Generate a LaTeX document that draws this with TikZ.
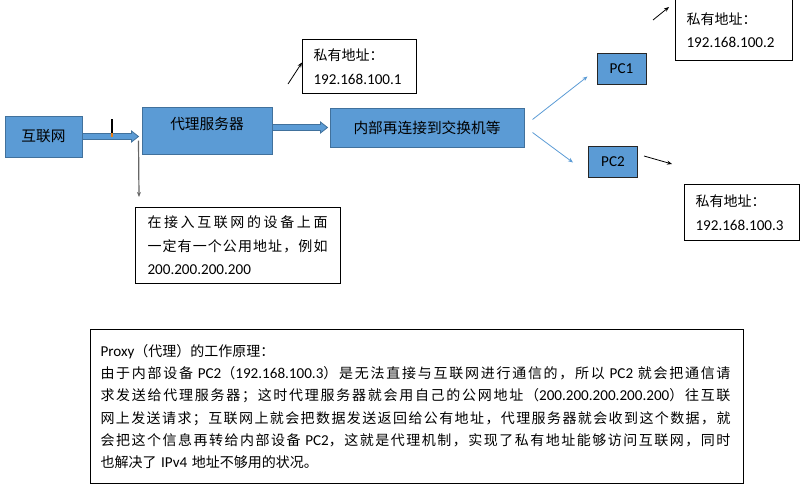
\documentclass[tikz,border=0pt]{standalone}
\usepackage{fontspec}
\setmainfont{Noto Sans CJK SC}
\newfontfamily\enfont[Scale=1.08]{Carlito}
\usetikzlibrary{calc,arrows.meta}
\makeatletter
\ifdefined\newXeTeXintercharclass \newXeTeXintercharclass\cjkcls \else \chardef\cjkcls=7 \fi
\def\setcjkrange#1#2{\@tempcnta=#1\relax
  \loop \XeTeXcharclass\@tempcnta=\cjkcls \ifnum\@tempcnta<#2\relax \advance\@tempcnta\@ne \repeat}
\setcjkrange{"3000}{"303F}
\setcjkrange{"4E00}{"9FFF}
\setcjkrange{"FF00}{"FFEF}
\makeatother
\XeTeXinterchartoks\cjkcls\cjkcls={\hskip 0pt plus 1pt\relax}
\newcommand\en[1]{{\enfont #1}}
\newcommand\jline[2]{\makebox[#1][s]{\XeTeXinterchartokenstate=1 #2}}
\newcommand\fatarr[2]{\draw[fatarrow] ($(#1)+(0,-3)$) -- ($(#2)+(-7,-3)$) -- ($(#2)+(-7,-5.5)$) -- (#2) -- ($(#2)+(-7,5.5)$) -- ($(#2)+(-7,3)$) -- ($(#1)+(0,3)$) -- cycle;}
\definecolor{boxblue}{HTML}{5B9BD5}
\definecolor{boxedge}{HTML}{41719C}
\tikzset{
  bluebox/.style={draw=boxedge, fill=boxblue, line width=1pt, inner sep=0pt, font=\fontsize{14.7}{18}\selectfont},
  pcbox/.style={bluebox, draw=black!85, minimum width=49pt, minimum height=31pt, font=\fontsize{14}{17}\selectfont},
  tagbox/.style={draw=black, line width=1pt, anchor=north west, align=left, inner ysep=0pt, font=\fontsize{14}{23.5}\selectfont},
  fatarrow/.style={draw=boxedge, fill=boxblue, line width=0.8pt},
  thinarrow/.style={-{Stealth[length=5pt,width=4pt]}, draw=boxblue, line width=0.8pt},
  pointer/.style={-{Stealth[length=5pt,width=4pt]}, line width=0.8pt},
}
\begin{document}
\begin{tikzpicture}[x=1pt, y=-1pt]
\useasboundingbox (0,0) rectangle (802,488);
\node[bluebox, minimum width=77pt, minimum height=41pt] (inet) at (43.5,136.5) {互联网};
\node[bluebox, minimum width=130pt, minimum height=47pt, text depth=15pt] (proxy) at (207,130.5) {代理服务器};
\node[bluebox, minimum width=194pt, minimum height=39pt] (lan) at (427,127.5) {内部再连接到交换机等};
\node[pcbox] (pc1) at (621.5,68.5) {\en{PC1}};
\node[pcbox] (pc2) at (613,161.5) {\en{PC2}};

\node[tagbox, text width=92pt, inner xsep=11pt, minimum height=54pt] (ip1) at (302,39) {私有地址：\\\en{192.168.100.1}};
\node[tagbox, text width=95pt, inner xsep=11pt, minimum height=61pt] (ip2) at (675,-1) {私有地址：\\\en{192.168.100.2}};
\node[tagbox, text width=93pt, inner xsep=11pt, minimum height=56pt] (ip3) at (684,184) {私有地址：\\\en{192.168.100.3}};
\node[tagbox, text width=181pt, inner xsep=12pt, minimum height=76pt] (pub) at (135,207)
  {\jline{180pt}{在接入互联网的设备上面}\\\jline{180pt}{一定有一个公用地址，例如}\\\en{200.200.200.200}};
\node[tagbox, text width=633pt, inner xsep=10pt, minimum height=154pt, font=\fontsize{14}{22.3}\selectfont] (info) at (90,329)
  {\en{Proxy}（代理）的工作原理：\\
   \jline{630pt}{由于内部设备 \en{PC2}（\en{192.168.100.3}）是无法直接与互联网进行通信的，所以 \en{PC2} 就会把通信请}\\
   \jline{630pt}{求发送给代理服务器；这时代理服务器就会用自己的公网地址（\en{200.200.200.200.200}）往互联}\\
   \jline{630pt}{网上发送请求；互联网上就会把数据发送返回给公有地址，代理服务器就会收到这个数据，就}\\
   \jline{630pt}{会把这个信息再转给内部设备 \en{PC2}，这就是代理机制，实现了私有地址能够访问互联网，同时}\\
   也解决了 \en{IPv4} 地址不够用的状况。};

\coordinate (tip1) at ($(proxy.west |- inet.east)+(-3,0)$);
\coordinate (base2) at (proxy.east |- lan.west);
\coordinate (tip2) at ($(lan.west)+(-2,0)$);
\fatarr{inet.east}{tip1}
\fatarr{base2}{tip2}
\draw[line width=1.5pt] (112,119) -- (112,133);
\draw[line width=1.5pt, draw=orange!70!brown] (112,133) -- (112,137);

\coordinate (drop) at ($(pub.north west)+(4,-10)$);
\draw[pointer, draw=black!60, line width=1.2pt] ($(tip1)+(0,4)$) -- (drop);
\coordinate (p1) at (288,84);
\draw[pointer] (p1) -- ($(ip1.west)+(0,-4)$);
\coordinate (p2) at (653,20);
\coordinate (p2e) at (669,7);
\draw[pointer] (p2) -- (p2e);
\coordinate (p3) at (644,156);
\coordinate (p3e) at (672,164);
\draw[pointer] (p3) -- (p3e);

\coordinate (s1) at ($(lan.east)+(8,-8)$);
\coordinate (s2) at ($(lan.east)+(8,5)$);
\draw[thinarrow] (s1) -- ($(pc1.south west)+(-9,-8)$);
\draw[thinarrow] (s2) -- ($(pc2.west)+(-15,1)$);
\end{tikzpicture}
\end{document}
